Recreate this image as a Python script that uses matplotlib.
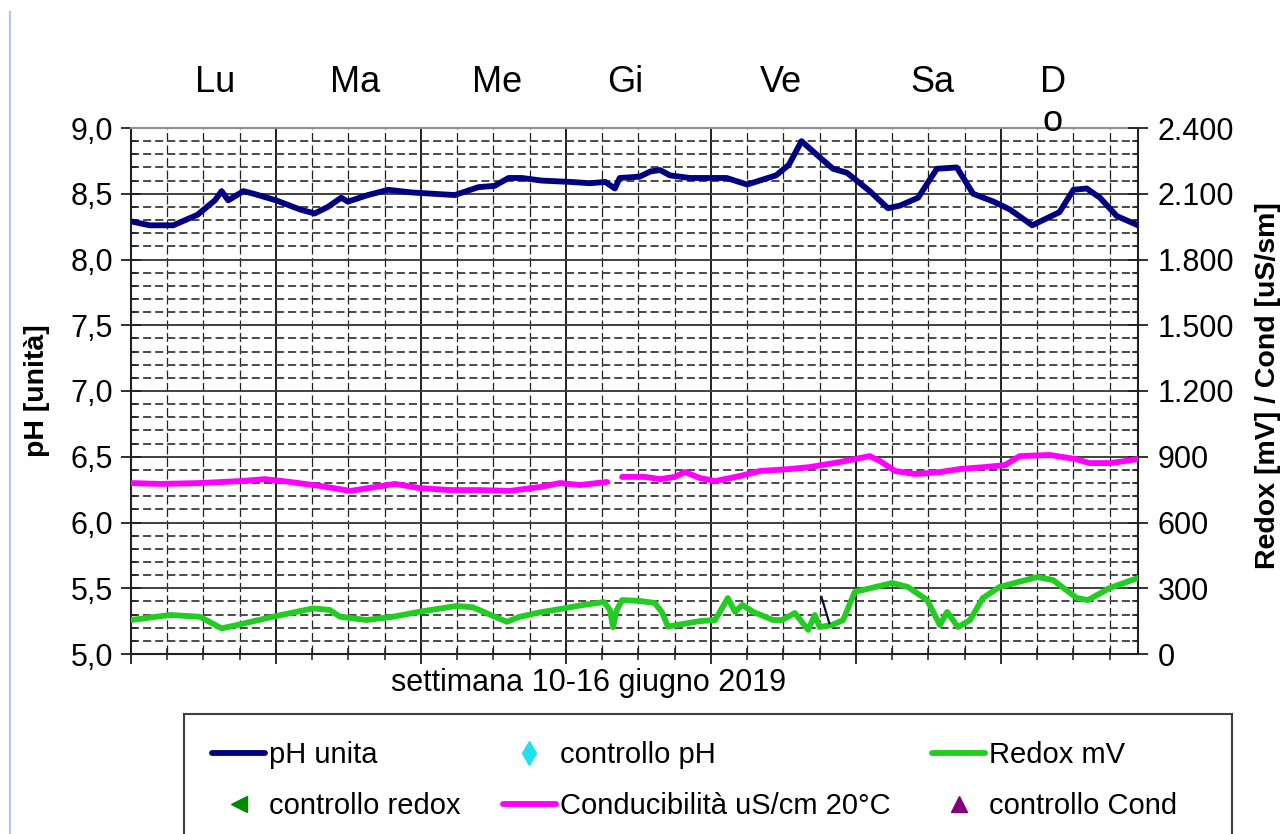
import matplotlib
matplotlib.use("Agg")
import matplotlib.pyplot as plt
import numpy as np
from matplotlib.ticker import MultipleLocator, FuncFormatter
from matplotlib.lines import Line2D
from matplotlib.patches import Rectangle

plt.rcParams['font.family'] = ['Liberation Sans', 'DejaVu Sans']
plt.rcParams['lines.scale_dashes'] = False

# ---- data (x in hours from Monday 00:00) ----
ph_hours = [0.0, 3.1, 7.0, 11.0, 13.9, 15.0, 16.1, 18.6, 20.3, 24.0, 28.0, 30.4, 32.6,
            34.8, 35.9, 39.2, 42.6, 46.4, 53.6, 57.5, 60.2, 62.5, 64.7, 68.0, 72.7,
            76.0, 78.5, 80.1, 80.9, 84.2, 86.0, 87.6, 89.2, 92.5, 95.3, 98.6, 102.0,
            106.8, 108.9, 111.0, 113.2, 116.2, 118.5, 122.3, 125.3, 127.3, 130.3, 133.4,
            136.7, 139.4, 142.8, 145.5, 149.2, 153.7, 156.0, 158.2, 160.4, 163.2, 166.7]
ph_values = [8.29, 8.26, 8.26, 8.34, 8.45, 8.52, 8.45, 8.52, 8.50, 8.45, 8.38, 8.35, 8.40,
             8.47, 8.44, 8.49, 8.53, 8.51, 8.49, 8.55, 8.56, 8.62, 8.62, 8.60, 8.59,
             8.58, 8.59, 8.54, 8.62, 8.63, 8.67, 8.68, 8.64, 8.62, 8.62, 8.62, 8.57,
             8.64, 8.72, 8.90, 8.81, 8.69, 8.66, 8.52, 8.39, 8.41, 8.47, 8.69,
             8.70, 8.50, 8.44, 8.38, 8.26, 8.36, 8.53, 8.54, 8.47, 8.33, 8.26]

cond_hours = [0.0, 4.8, 11.4, 18.1, 22.2, 26.3, 31.3, 36.3, 40.4, 43.7, 47.8, 52.8, 57.8,
              62.7, 67.7, 71.0, 74.3, 78.8, 80.0, 81.3, 85.1, 87.6, 90.0, 91.7, 94.2,
              96.7, 100.8, 104.1, 109.1, 112.4, 117.4, 122.3, 124.0, 126.5, 129.8, 133.9,
              137.2, 141.4, 144.7, 147.1, 152.1, 156.3, 158.7, 162.0, 164.5, 166.7]
cond_values = [780, 776, 780, 789, 798, 785, 767, 744, 762, 776, 757, 748, 748,
               744, 762, 780, 771, 785, np.nan, 808, 808, 798, 808, 830, 803,
               789, 812, 835, 844, 853, 876, 903, 880, 835, 821, 830,
               844, 853, 862, 903, 908, 890, 871, 871, 880, 890]

redox_hours = [0.0, 6.5, 11.4, 15.0, 17.5, 23.5, 30.1, 32.9, 34.6, 39.0, 43.4, 47.8, 53.9,
               56.6, 62.2, 64.4, 67.7, 71.0, 75.1, 78.3, 79.3, 79.8, 80.4, 81.3, 84.2,
               86.7, 87.9, 88.9, 90.9, 94.2, 96.7, 98.8, 100.0, 101.2, 103.0, 106.3, 107.8,
               109.9, 112.1, 113.2, 114.0, 116.0, 117.9, 119.8, 126.0, 128.6, 131.8, 133.9,
               135.1, 136.9, 138.9, 141.0, 143.8, 150.0, 152.6, 156.6, 158.4, 162.0, 166.7]
redox_values = [155, 178, 170, 117, 132, 170, 208, 201, 170, 155, 170, 193, 219,
                213, 147, 170, 190, 205, 225, 237, 200, 122, 200, 246, 242,
                233, 190, 125, 135, 150, 155, 255, 192, 224, 192, 155, 155,
                187, 110, 178, 123, 132, 155, 283, 324, 306, 246, 132,
                192, 123, 155, 255, 306, 351, 338, 255, 246, 301, 347]

mark_hours = [114.3, 115.6]
mark_values = [260, 141]

day_labels = ['Lu', 'Ma', 'Me', 'Gi', 'Ve', 'Sa', 'D']
day_label_px = [215, 355, 497, 625, 781, 932, 1053]

W, H = 1287, 834
fig = plt.figure(figsize=(W / 100, H / 100), dpi=100)
L, R, T, B = 131, 1138, 128, 654
ax = fig.add_axes([L / W, 1 - B / H, (R - L) / W, (B - T) / H])

ax.set_xlim(0, 166.7)
ax.set_ylim(5.0, 9.0)
ax.xaxis.set_major_locator(MultipleLocator(24))
ax.xaxis.set_minor_locator(MultipleLocator(6))
ax.yaxis.set_major_locator(MultipleLocator(0.5))
ax.yaxis.set_minor_locator(MultipleLocator(0.1))
ax.yaxis.set_major_formatter(FuncFormatter(lambda v, p: f"{v:.1f}".replace('.', ',')))
ax.xaxis.set_major_formatter(FuncFormatter(lambda v, p: ''))

# grids
ax.set_axisbelow(True)
ax.grid(which='major', axis='y', color='#404040', lw=1.4, ls='-')
ax.grid(which='major', axis='x', color='#202020', lw=1.4, ls='-')
ax.grid(which='minor', axis='y', color='#4a4a4a', lw=1.4, ls=(0, (5.8, 2.9)))
ax.grid(which='minor', axis='x', color='#202020', lw=0.9, ls=(0, (6.5, 2.5)))

ax.tick_params(axis='y', which='major', direction='inout', length=14, width=1.3,
               labelsize=22, pad=6, color='#202020')
ax.tick_params(axis='y', which='minor', direction='in', length=4.5, width=1.1, color='#202020')
ax.tick_params(axis='x', which='major', direction='inout', length=14, width=1.3, color='#202020')
ax.tick_params(axis='x', which='minor', direction='inout', length=9, width=1.1, color='#202020')

for side in ['left', 'bottom', 'right']:
    ax.spines[side].set_color('#202020')
    ax.spines[side].set_linewidth(1.5)
ax.spines['top'].set_color('#909090')
ax.spines['top'].set_linewidth(1.5)

LW = 4.2
ax.plot(ph_hours, ph_values, color='#000080', lw=LW, solid_joinstyle='round',
        solid_capstyle='round', zorder=5, label='pH unita')

ax2 = ax.twinx()
ax2.set_ylim(0, 2400)
ax2.yaxis.set_major_locator(MultipleLocator(300))
ax2.yaxis.set_minor_locator(MultipleLocator(60))
ax2.yaxis.set_major_formatter(FuncFormatter(lambda v, p: f"{int(round(v)):,}".replace(',', '.')))
ax2.tick_params(axis='y', which='major', direction='inout', length=14, width=1.3,
                labelsize=22, pad=7, color='#202020')
ax2.tick_params(axis='y', which='minor', direction='in', length=4.5, width=1.1, color='#202020')
for s in ax2.spines.values():
    s.set_visible(False)

ax2.plot(cond_hours, cond_values, color='#ff00ff', lw=LW, solid_joinstyle='round',
         solid_capstyle='round', zorder=4, label='Conducibilità uS/cm 20°C')
ax2.plot(redox_hours, redox_values, color='#22cc22', lw=LW, solid_joinstyle='round',
         solid_capstyle='round', zorder=4, label='Redox mV')
ax2.plot(mark_hours, mark_values, color='#101030', lw=1.6, zorder=6)
ax2.plot([], [], ls='none', marker='d', color='#22e0ee', ms=12, label='controllo pH')
ax2.plot([], [], ls='none', marker='<', color='#008a00', ms=12, label='controllo redox')
ax2.plot([], [], ls='none', marker='^', color='#800080', ms=12, label='controllo Cond')

# texts
for lab, px in zip(day_labels, day_label_px):
    fig.text(px / W, 1 - 92 / H, lab, ha='center', va='baseline', fontsize=26)
fig.text(1053 / W, 1 - 131 / H, 'o', ha='center', va='baseline', fontsize=26)

fig.text(37 / W, 1 - 391 / H, 'pH [unità]', rotation=90, ha='center', va='center',
         fontsize=20.5, fontweight='bold')
fig.text(1268 / W, 1 - 386 / H, 'Redox [mV] / Cond [uS/sm]', rotation=90, ha='center',
         va='center', fontsize=20.5, fontweight='bold')
fig.text(589 / W, 1 - 683 / H, 'settimana 10-16 giugno 2019', ha='center', va='center',
         fontsize=22)

# legend
lines = {l.get_label(): l for l in ax.get_lines() + ax2.get_lines()}
order = ['pH unita', 'controllo redox', 'controllo pH', 'Conducibilità uS/cm 20°C',
         'Redox mV', 'controllo Cond']
handles = [lines[k] for k in order]
leg = fig.legend(handles, order, ncol=3, loc='upper left',
                 bbox_to_anchor=(212 / W, 1 - 741 / H),
                 borderaxespad=0, fontsize=21, handlelength=1.82,
                 handletextpad=0.15, columnspacing=1.42, labelspacing=0.8, borderpad=0,
                 frameon=False)

# legend frame
fig.add_artist(Rectangle((184 / W, -0.05), (1232 - 184) / W, 0.05 + (1 - 714 / H),
                         transform=fig.transFigure, facecolor='none',
                         edgecolor='#404040', lw=1.5, zorder=0))

# left frame line of the page
fig.add_artist(Line2D([10 / W, 10 / W], [0, 1 - 12 / H], color='#b4c8e4', lw=1.6))

fig.savefig('out.png', dpi=100)
